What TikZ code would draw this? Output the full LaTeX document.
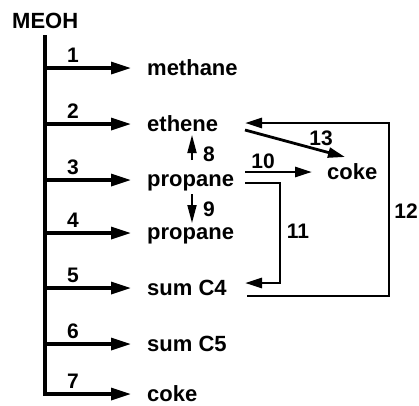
\documentclass[tikz,border=0pt]{standalone}
\usepackage{fontspec}
\setmainfont{Liberation Sans}
\usetikzlibrary{arrows.meta}
\tikzset{
  lbl/.style={font=\fontsize{22}{22}\selectfont\bfseries, inner sep=0pt, anchor=base west},
  num/.style={font=\fontsize{21}{21}\selectfont\bfseries, inner sep=0pt, anchor=base},
  main/.style={line width=3.4pt},
  arr/.style={line width=3.2pt, -{Triangle[length=20pt,width=12pt]}},
  sarr/.style={line width=2.8pt, -{Triangle[length=17pt,width=10pt]}},
  varr/.style={line width=1.8pt, -{Triangle[length=18pt,width=9pt]}},
}
\begin{document}
\begin{tikzpicture}[x=1pt,y=-1pt]
\useasboundingbox (0,0) rectangle (419,405);
\node[lbl] (meoh) at (12,28) {MEOH};
\coordinate (top) at (45,37);
\coordinate (bot) at (45,394);
\draw[main, line cap=rect] (top) -- (bot);
% branch points
\coordinate (b1) at (45,68);
\coordinate (b2) at (45,124);
\coordinate (b3) at (45,180);
\coordinate (b4) at (45,233);
\coordinate (b5) at (45,288);
\coordinate (b6) at (45,344);
\coordinate (b7) at (45,394);
% product labels
\node[lbl] (t1) at (147,75) {methane};
\node[lbl] (t2) at (147,131) {ethene};
\node[lbl] (t3) at (147,186) {propane};
\node[lbl] (t4) at (147,239) {propane};
\node[lbl] (t5) at (147,295) {sum C4};
\node[lbl] (t6) at (147,351) {sum C5};
\node[lbl] (t7) at (147,401) {coke};
\node[lbl] (ck) at (327,179) {coke};
% main arrows
\foreach \i in {1,...,7}{
  \draw[arr, shorten >=16pt] (b\i) -- (b\i -| t\i.west);
}
% numbers
\node[num] (n1) at (73,62) {1};
\node[num] (n2) at (73,118) {2};
\node[num] (n3) at (73,174) {3};
\node[num] (n4) at (73,227) {4};
\node[num] (n5) at (73,282) {5};
\node[num] (n6) at (73,338) {6};
\node[num] (n7) at (73,388) {7};
% 8 and 9
\coordinate (a8s) at (192,160);
\coordinate (a8e) at (192,135);
\draw[varr] (a8s) -- (a8e);
\node[num] (n8) at (209,161) {8};
\coordinate (a9s) at (192,194);
\coordinate (a9e) at (192,223);
\draw[varr] (a9s) -- (a9e);
\node[num] (n9) at (209,216) {9};
% 10
\coordinate (a10s) at (245,172);
\draw[sarr] (a10s) -- ([xshift=-15pt]ck.west |- a10s);
\node[num] (n10) at (263,168) {10};
% 13
\coordinate (a13s) at (245,130);
\coordinate (a13e) at (345,157);
\draw[sarr] (a13s) -- (a13e);
\node[num] (n13) at (321,145) {13};
% 11
\coordinate (a11s) at (245,183);
\coordinate (r11) at (280,183);
\coordinate (a11e) at (245,283);
\draw[sarr] (a11s) -- (r11) |- (a11e);
\node[num] (n11) at (298,238) {11};
% 12
\coordinate (a12s) at (247,296);
\coordinate (r12) at (389,123);
\coordinate (a12e) at (245,123);
\draw[sarr] (a12s) -| (r12) -- (a12e);
\node[num] (n12) at (406,218) {12};
\end{tikzpicture}
\end{document}
